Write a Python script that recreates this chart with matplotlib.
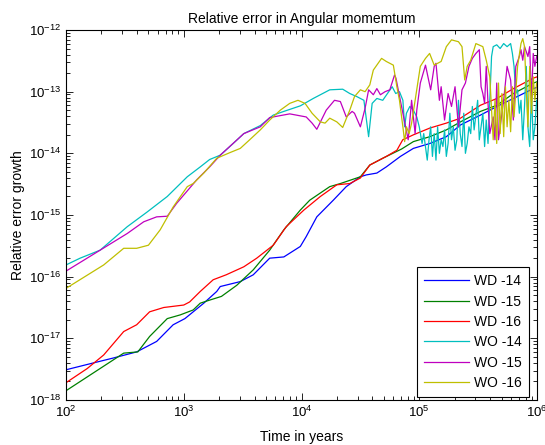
import matplotlib
matplotlib.use('Agg')
import matplotlib.pyplot as plt
import numpy as np
from matplotlib.ticker import LogLocator, NullFormatter

plt.rcParams['font.family'] = ['Liberation Sans', 'DejaVu Sans']
plt.rcParams['mathtext.fontset'] = 'custom'
plt.rcParams['mathtext.rm'] = 'Liberation Sans'
plt.rcParams['mathtext.it'] = 'Liberation Sans'

# values, as powers of ten (log10 of years, log10 of error)
wd14_t = [2.00, 2.23, 2.40, 2.60, 2.77, 2.91, 3.01, 3.17, 3.28, 3.31, 3.48, 3.59, 3.73, 3.85,
          3.99, 4.04, 4.13, 4.27, 4.38, 4.50, 4.55, 4.64, 4.72, 4.84, 4.95, 5.09, 5.23, 5.35,
          5.52, 5.66, 5.80, 5.97, 6.00]
wd14_e = [-17.51, -17.40, -17.32, -17.22, -17.05, -16.78, -16.68, -16.43, -16.24, -16.16, -16.08,
          -15.97, -15.70, -15.68, -15.51, -15.35, -15.03, -14.76, -14.54, -14.38, -14.35, -14.32,
          -14.22, -14.05, -13.92, -13.84, -13.73, -13.54, -13.38, -13.24, -13.11, -12.95, -12.93]

wd15_t = [2.00, 2.49, 2.61, 2.71, 2.86, 2.97, 3.08, 3.14, 3.22, 3.32, 3.45, 3.59, 3.73, 3.85,
          3.99, 4.07, 4.24, 4.33, 4.50, 4.58, 4.69, 4.85, 4.95, 5.09, 5.23, 5.35, 5.52, 5.66,
          5.80, 5.97, 6.00]
wd15_e = [-17.85, -17.24, -17.22, -16.97, -16.68, -16.62, -16.54, -16.43, -16.38, -16.32, -16.14,
          -15.89, -15.57, -15.24, -14.92, -14.76, -14.54, -14.49, -14.38, -14.19, -14.08, -13.93,
          -13.81, -13.73, -13.62, -13.49, -13.32, -13.22, -13.03, -12.86, -12.84]

wd16_t = [2.00, 2.18, 2.32, 2.49, 2.60, 2.71, 2.83, 3.00, 3.05, 3.14, 3.25, 3.36, 3.51, 3.62,
          3.76, 3.87, 4.02, 4.16, 4.30, 4.41, 4.50, 4.58, 4.72, 4.81, 4.86, 4.95, 5.09, 5.23,
          5.35, 5.52, 5.66, 5.80, 5.97, 6.00]
wd16_e = [-17.72, -17.49, -17.27, -16.89, -16.78, -16.57, -16.50, -16.46, -16.41, -16.24, -16.05,
          -15.97, -15.84, -15.70, -15.49, -15.19, -14.92, -14.70, -14.51, -14.49, -14.40, -14.19,
          -14.05, -13.95, -13.78, -13.70, -13.59, -13.51, -13.43, -13.22, -13.11, -12.95, -12.78,
          -12.76]

wo14_t = [2.00, 2.12, 2.29, 2.52, 2.69, 2.86, 3.03, 3.14, 3.22, 3.31, 3.42, 3.51, 3.65, 3.76,
          3.85, 3.99, 4.10, 4.24, 4.35, 4.41, 4.47, 4.53, 4.57, 4.60, 4.64, 4.69, 4.77, 4.80,
          4.832, 4.861, 4.876, 4.891, 4.920, 4.950, 4.979, 5.000, 5.024, 5.038, 5.068, 5.083,
          5.097, 5.112, 5.127, 5.142, 5.156, 5.171, 5.186, 5.201, 5.215, 5.230, 5.245, 5.260,
          5.274, 5.289, 5.304, 5.319, 5.333, 5.348, 5.363, 5.378, 5.392, 5.407, 5.422, 5.437,
          5.451, 5.466, 5.496, 5.510, 5.525, 5.540, 5.555, 5.569, 5.584, 5.599, 5.614, 5.628,
          5.658, 5.687, 5.717, 5.746, 5.776, 5.791, 5.805, 5.820, 5.835, 5.850, 5.864, 5.879,
          5.894, 5.909, 5.923, 5.938, 5.953, 5.968, 5.982, 5.997]
wo14_e = [-15.81, -15.70, -15.57, -15.19, -14.95, -14.70, -14.38, -14.22, -14.10, -14.03, -13.84,
          -13.68, -13.55, -13.38, -13.32, -13.23, -13.11, -12.97, -12.96, -13.03, -13.08, -13.14,
          -13.73, -13.19, -13.11, -13.14, -12.92, -13.03,
          -13.00, -13.14, -13.57, -13.35, -13.24, -13.30, -13.41, -13.57, -13.84, -13.68, -14.11,
          -13.78, -13.57, -14.05, -13.68, -14.11, -13.57, -14.00, -13.78, -13.89, -13.62, -14.05,
          -13.84, -13.35, -13.78, -13.57, -13.95, -13.78, -13.14, -13.68, -13.89, -13.35, -14.00,
          -13.84, -13.57, -13.68, -13.24, -13.62, -13.14, -13.78, -13.57, -13.35, -13.89, -13.46,
          -13.84, -13.14, -12.43, -12.27, -12.24, -12.30, -12.22, -12.27, -12.22, -12.38, -12.59,
          -13.03, -12.97, -13.35, -13.14, -13.78, -13.24, -12.59, -13.57, -13.89, -13.03, -13.78,
          -13.57, -13.14]

wo15_t = [2.00, 2.29, 2.52, 2.66, 2.77, 2.86, 2.94, 3.11, 3.22, 3.31, 3.51, 3.65, 3.73, 3.90,
          4.04, 4.09, 4.13, 4.21, 4.28, 4.33, 4.38, 4.43, 4.45, 4.50, 4.54, 4.57, 4.61, 4.64,
          4.67, 4.71, 4.75, 4.79, 4.802, 4.861, 4.906, 4.935, 4.965, 4.979, 5.009, 5.053, 5.097,
          5.127, 5.142, 5.171, 5.186, 5.215, 5.245, 5.274, 5.304, 5.333, 5.363, 5.392, 5.422,
          5.451, 5.481, 5.510, 5.525, 5.540, 5.555, 5.569, 5.584, 5.599, 5.628, 5.643, 5.658,
          5.673, 5.687, 5.717, 5.746, 5.776, 5.799, 5.820, 5.850, 5.864, 5.879, 5.894, 5.923,
          5.938, 5.953, 5.968, 5.982, 5.997]
wo15_e = [-15.91, -15.57, -15.30, -15.11, -15.03, -15.02, -14.81, -14.43, -14.22, -14.03, -13.68,
          -13.57, -13.42, -13.36, -13.41, -13.51, -13.61, -13.30, -13.14, -13.16, -13.41, -13.32,
          -13.35, -13.57, -13.27, -12.97, -13.05, -12.95, -13.05, -13.00, -12.97, -12.73, -12.78,
          -13.35, -13.78, -13.14, -13.68, -13.30, -12.86, -12.57, -12.97, -12.59, -12.54, -13.14,
          -12.92, -13.46, -13.03, -13.24, -12.92, -13.57, -12.97, -12.86, -12.59, -12.46, -12.38,
          -12.32, -12.92, -13.03, -13.19, -12.59, -13.19, -13.68, -13.41, -13.78, -12.86, -13.78,
          -13.57, -13.14, -12.59, -12.81, -13.46, -12.59, -12.43, -12.32, -12.49, -12.27, -12.43,
          -12.27, -13.14, -12.38, -12.59, -12.43]

wo16_t = [2.00, 2.32, 2.49, 2.60, 2.70, 2.80, 2.91, 3.03, 3.08, 3.17, 3.28, 3.39, 3.48, 3.56,
          3.65, 3.73, 3.82, 3.90, 3.97, 4.03, 4.09, 4.16, 4.20, 4.24, 4.30, 4.35, 4.41, 4.45,
          4.50, 4.54, 4.58, 4.61, 4.68, 4.72, 4.78, 4.81, 4.832, 4.861, 4.876, 4.891, 4.914,
          4.935, 4.965, 5.009, 5.053, 5.088, 5.127, 5.186, 5.230, 5.274, 5.333, 5.363, 5.386,
          5.407, 5.437, 5.481, 5.540, 5.569, 5.599, 5.628, 5.643, 5.658, 5.673, 5.687, 5.702,
          5.717, 5.732, 5.746, 5.761, 5.776, 5.791, 5.805, 5.835, 5.864, 5.879, 5.894, 5.909,
          5.923, 5.938, 5.953, 5.968, 5.982, 5.997]
wo16_e = [-16.19, -15.81, -15.54, -15.54, -15.49, -15.24, -14.87, -14.54, -14.49, -14.32, -14.08,
          -13.99, -13.92, -13.78, -13.62, -13.46, -13.30, -13.19, -13.14, -13.19, -13.35, -13.49,
          -13.51, -13.43, -13.49, -13.58, -13.30, -13.08, -12.97, -13.00, -12.89, -12.65, -12.46,
          -12.51, -12.57, -12.92, -13.14, -13.57, -13.81, -13.57, -13.68, -13.51, -13.14, -12.59,
          -12.46, -12.38, -12.57, -12.51, -12.27, -12.16, -12.19, -12.27, -12.81, -12.59, -12.49,
          -12.22, -12.27, -12.49, -12.76, -13.78, -13.14, -13.84, -12.86, -13.68, -13.03, -13.73,
          -12.92, -13.57, -13.14, -13.65, -12.92, -13.41, -12.59, -12.22, -12.14, -12.27, -12.97,
          -13.57, -12.59, -13.35, -12.76, -13.14, -12.86]

series = [
    ('WD -14', wd14_t, wd14_e, (0, 0, 1)),
    ('WD -15', wd15_t, wd15_e, (0, 0.5, 0)),
    ('WD -16', wd16_t, wd16_e, (1, 0, 0)),
    ('WO -14', wo14_t, wo14_e, (0, 0.75, 0.75)),
    ('WO -15', wo15_t, wo15_e, (0.75, 0, 0.75)),
    ('WO -16', wo16_t, wo16_e, (0.75, 0.75, 0)),
]

fig = plt.figure(figsize=(5.45, 4.45), dpi=100)
ax = fig.add_axes([66/545, 45/445, 471/545, 370/445])

for name, lt, le, col in series:
    ax.plot(10**np.array(lt), 10**np.array(le), color=col, linewidth=0.9, label=name)

ax.set_xscale('log')
ax.set_yscale('log')
ax.set_xlim(1e2, 1e6)
ax.set_ylim(1e-18, 1e-12)
ax.xaxis.set_minor_locator(LogLocator(base=10, subs=np.arange(2, 10)))
ax.yaxis.set_minor_locator(LogLocator(base=10, subs=np.arange(2, 10)))
ax.xaxis.set_minor_formatter(NullFormatter())
ax.yaxis.set_minor_formatter(NullFormatter())
ax.tick_params(which='both', direction='in', top=True, right=True, labelsize=9.5)
ax.tick_params(which='major', length=5, width=0.6)
ax.tick_params(which='minor', length=3, width=0.6)
for s in ax.spines.values():
    s.set_linewidth(0.8)

ax.set_title('Relative error in Angular momemtum', fontsize=10, pad=5)
ax.set_xlabel('Time in years', fontsize=10, labelpad=7)
ax.set_ylabel('Relative error growth', fontsize=10, labelpad=3)

leg = ax.legend(loc='lower right', bbox_to_anchor=((529-66)/471, 3/370), borderaxespad=0,
                fontsize=10, handlelength=3.2, handletextpad=0.4, labelspacing=0.46,
                borderpad=0.5, fancybox=False, framealpha=1)
leg.get_frame().set_edgecolor('black')
leg.get_frame().set_linewidth(0.8)

fig.savefig('out.png', dpi=100)
